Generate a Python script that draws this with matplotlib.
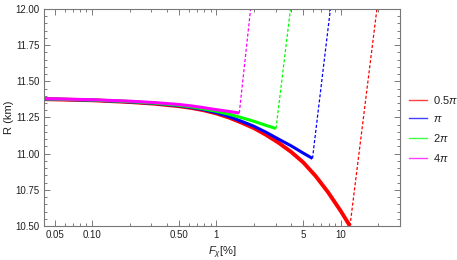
import matplotlib
matplotlib.use("Agg")
import matplotlib.pyplot as plt
from matplotlib.ticker import FixedLocator, NullFormatter, MultipleLocator, FixedFormatter
from matplotlib.lines import Line2D

plt.rcParams['font.family'] = ['Liberation Sans', 'DejaVu Sans']
plt.rcParams['mathtext.fontset'] = 'custom'
plt.rcParams['mathtext.rm'] = 'Liberation Sans'
plt.rcParams['mathtext.it'] = 'Liberation Sans:italic'

# --- data ---
labels = [r'0.5$\pi$', r'$\pi$', r'2$\pi$', r'4$\pi$']
colors = ['#ff0000', '#0000ff', '#00ff00', '#ff00ff']

F_red = [0.04, 0.1, 0.2, 0.32, 0.5, 0.63, 0.79, 1.0, 1.26, 1.58, 2.0, 2.5, 3.16, 4.0, 5.0, 6.3, 7.9, 10.0, 11.9]
R_red = [11.377, 11.369, 11.357, 11.345, 11.328, 11.316, 11.300, 11.278, 11.250, 11.216, 11.177,
         11.131, 11.076, 11.012, 10.940, 10.845, 10.735, 10.605, 10.500]

F_blue = [0.04, 0.1, 0.2, 0.32, 0.5, 0.63, 0.79, 1.0, 1.26, 1.58, 2.0, 2.5, 3.16, 4.0, 5.0, 5.94]
R_blue = [11.378, 11.370, 11.358, 11.347, 11.331, 11.319, 11.304, 11.283, 11.257, 11.225, 11.190,
          11.149, 11.101, 11.054, 11.004, 10.967]

F_green = [0.04, 0.1, 0.2, 0.32, 0.5, 0.63, 0.79, 1.0, 1.26, 1.58, 2.0, 2.5, 3.02]
R_green = [11.379, 11.371, 11.360, 11.349, 11.334, 11.323, 11.309, 11.293, 11.273, 11.250, 11.224,
           11.196, 11.174]

F_mag = [0.04, 0.1, 0.2, 0.32, 0.5, 0.63, 0.79, 1.0, 1.26, 1.53]
R_mag = [11.381, 11.373, 11.363, 11.353, 11.340, 11.330, 11.318, 11.304, 11.292, 11.281]

# dashed continuation: from the end of each curve up to the top edge
F_dash_top = [19.6, 8.28, 3.95, 1.886]
R_top = 12.0

curves = [(F_red, R_red), (F_blue, R_blue), (F_green, R_green), (F_mag, R_mag)]
widths = [2.8, 2.2, 2.2, 2.2]

xticks = [0.05, 0.1, 0.5, 1, 5, 10]
xticklabels = ['0.05', '0.10', '0.50', '1', '5', '10']
yticks = [10.5, 10.75, 11.0, 11.25, 11.5, 11.75, 12.0]

fig = plt.figure(figsize=(4.57, 2.6), dpi=100)
ax = fig.add_axes([0.0963, 0.1308, 0.7787, 0.8346])

for (F, R), c, lw, ft in zip(curves, colors, widths, F_dash_top):
    ax.plot(F, R, color=c, lw=lw, solid_capstyle='butt', solid_joinstyle='round')
    ax.plot([F[-1], ft], [R[-1], R_top], color=c, lw=0.9, ls=(0, (2.5, 1.6)))

ax.set_xscale('log')
ax.set_xlim(0.041, 30)
ax.set_ylim(10.5, 12.0)

ax.xaxis.set_major_locator(FixedLocator(xticks))
ax.xaxis.set_major_formatter(FixedFormatter(xticklabels))
minor = [m * 10.0**e for e in range(-2, 2) for m in range(1, 10)]
minor = [v for v in minor if all(abs(v - t) > 1e-9 for t in xticks)]
ax.xaxis.set_minor_locator(FixedLocator(minor))
ax.xaxis.set_minor_formatter(NullFormatter())
ax.yaxis.set_major_locator(FixedLocator(yticks))
ax.yaxis.set_major_formatter(FixedFormatter([f'{v:.2f}' for v in yticks]))
ax.yaxis.set_minor_locator(MultipleLocator(0.05))

ax.tick_params(which='both', direction='in', top=True, right=True, colors='#666666',
               labelcolor='#222222', labelsize=7, width=0.6)
ax.tick_params(which='major', length=4, pad=3)
ax.tick_params(which='minor', length=2)
for s in ax.spines.values():
    s.set_color('#777777')
    s.set_linewidth(0.8)

ax.set_xlabel(r'$F_{\chi}$[%]', fontsize=8, color='#222222', labelpad=3)
ax.set_ylabel('R (km)', fontsize=8, color='#222222')
ax.yaxis.set_label_coords(-0.085, 0.5)

handles = [Line2D([0], [0], color=c, lw=1.0, alpha=0.75) for c in colors]
leg = fig.legend(handles, labels, loc='upper left', bbox_to_anchor=(0.885, 0.655),
                 frameon=False, fontsize=8, handlelength=1.6, handletextpad=0.6,
                 labelspacing=0.72, borderaxespad=0)
for t in leg.get_texts():
    t.set_color('#222222')

fig.savefig('out.png', dpi=100)
